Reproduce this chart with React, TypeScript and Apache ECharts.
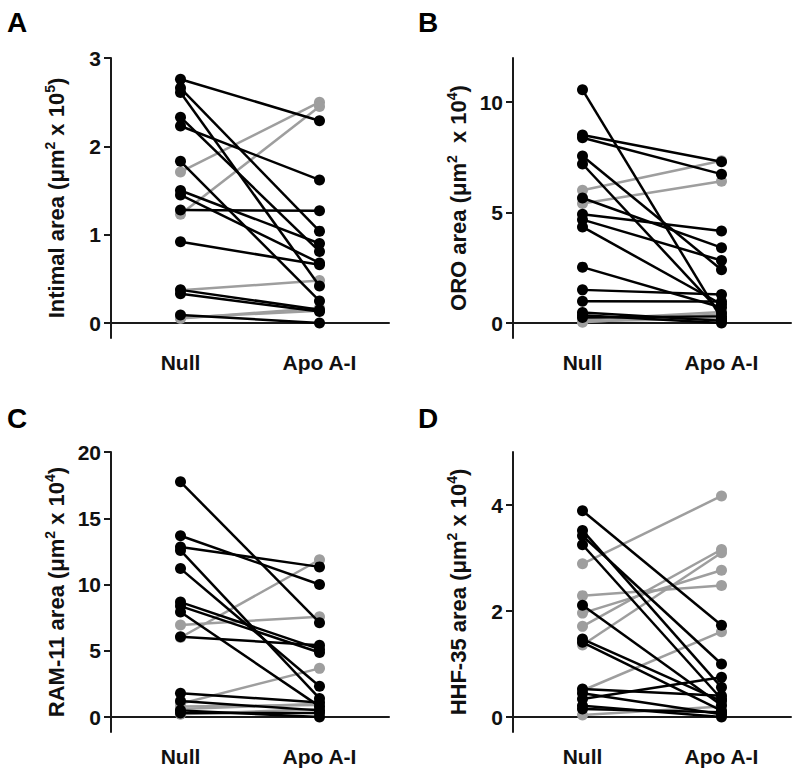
import React, { useEffect, useRef } from "react";
import * as echarts from "echarts";

const CATEGORIES = ["Null", "Apo A-I"];

// Panel A: Intimal area (µm² x 10^5)
const A_NULL_BLACK = [2.76, 2.66, 2.61, 2.33, 2.23, 1.83, 1.50, 1.45, 1.28, 0.92, 0.375, 0.33, 0.09];
const A_APO_BLACK = [2.29, 1.04, 0.42, 0.81, 1.62, 0.25, 0.90, 0.68, 1.27, 0.66, 0.15, 0.13, 0.0];
const A_NULL_GRAY = [1.71, 1.23, 0.37, 0.06, 0.05];
const A_APO_GRAY = [2.50, 2.45, 0.48, 0.14, 0.17];
const A_TICKS = [0, 1, 2, 3];

// Panel B: ORO area (µm² x 10^4)
const B_NULL_BLACK = [10.56, 8.51, 8.39, 7.56, 7.20, 5.66, 4.92, 4.68, 4.35, 2.53, 1.50, 0.98, 0.48, 0.35, 0.25];
const B_APO_BLACK = [0.20, 7.30, 6.74, 2.41, 0.45, 3.41, 4.17, 2.83, 0.85, 0.70, 1.29, 0.97, 0.10, 0.0, 0.30];
const B_NULL_GRAY = [6.01, 5.41, 0.15, 0.03, 0.08];
const B_APO_GRAY = [7.35, 6.42, 0.50, 0.40, 0.20];
const B_TICKS = [0, 5, 10];

// Panel C: RAM-11 area (µm² x 10^4)
const C_NULL_BLACK = [17.75, 13.68, 12.83, 12.57, 11.2, 8.67, 8.37, 7.92, 6.05, 1.8, 1.2, 0.5, 0.3];
const C_APO_BLACK = [7.12, 10.0, 11.33, 1.40, 2.32, 5.12, 4.87, 0.80, 5.42, 1.10, 0.50, 0.0, 0.30];
const C_NULL_GRAY = [6.95, 6.0, 1.0, 0.8, 0.6, 0.2];
const C_APO_GRAY = [7.57, 11.87, 3.67, 0.9, 1.0, 0.6];
const C_TICKS = [0, 5, 10, 15, 20];

// Panel D: HHF-35 area (µm² x 10^4)
const D_NULL_BLACK = [3.89, 3.52, 3.42, 3.25, 2.11, 1.47, 1.41, 0.53, 0.45, 0.34, 0.21, 0.15];
const D_APO_BLACK = [1.73, 0.56, 1.00, 0.34, 0.22, 0.30, 0.12, 0.40, 0.05, 0.75, 0.0, 0.09];
const D_NULL_GRAY = [2.89, 2.29, 1.96, 1.71, 1.36, 0.50, 0.04];
const D_APO_GRAY = [4.17, 2.48, 2.77, 3.16, 3.10, 1.61, 0.20];
const D_TICKS = [0, 2, 4];

const FONT = "'Liberation Sans', Arial, Helvetica, sans-serif";
const AXIS_COLOR = "#1a1a1a";
const BLACK = "#000000";
const GRAY = "#9e9e9e";

type Panel = {
  letter: string;
  title: string;
  mid: string;
  sup: string;
  nullBlack: number[];
  apoBlack: number[];
  nullGray: number[];
  apoGray: number[];
  ticks: number[];
  max: number;
};

const PANELS: Panel[] = [
  { letter: "A", title: "Intimal area (\u03bcm", mid: " x 10", sup: "5", nullBlack: A_NULL_BLACK, apoBlack: A_APO_BLACK, nullGray: A_NULL_GRAY, apoGray: A_APO_GRAY, ticks: A_TICKS, max: 3 },
  { letter: "B", title: "ORO area (\u03bcm", mid: "  x 10", sup: "4", nullBlack: B_NULL_BLACK, apoBlack: B_APO_BLACK, nullGray: B_NULL_GRAY, apoGray: B_APO_GRAY, ticks: B_TICKS, max: 12 },
  { letter: "C", title: "RAM-11 area (\u03bcm", mid: " x 10", sup: "4", nullBlack: C_NULL_BLACK, apoBlack: C_APO_BLACK, nullGray: C_NULL_GRAY, apoGray: C_APO_GRAY, ticks: C_TICKS, max: 20 },
  { letter: "D", title: "HHF-35 area (\u03bcm", mid: " x 10", sup: "4", nullBlack: D_NULL_BLACK, apoBlack: D_APO_BLACK, nullGray: D_NULL_GRAY, apoGray: D_APO_GRAY, ticks: D_TICKS, max: 5 },
];

const GRID_POS = [
  { left: 111, top: 58 },
  { left: 513, top: 58 },
  { left: 111, top: 452 },
  { left: 513, top: 452 },
];
const LETTER_POS = [
  { x: 7, y: 8 },
  { x: 418, y: 8 },
  { x: 7, y: 404 },
  { x: 418, y: 404 },
];
const GRID_W = 278;
const GRID_H = 280;
const ZERO_OFFSET = 15;

export default function App() {
  const ref = useRef<HTMLDivElement>(null);

  useEffect(() => {
    if (!ref.current) return;
    const chart = echarts.init(ref.current, undefined, { renderer: "svg" });

    const grids: any[] = [];
    const xAxes: any[] = [];
    const yAxes: any[] = [];
    const series: any[] = [];
    const graphics: any[] = [];

    PANELS.forEach((p, i) => {
      const g = GRID_POS[i];
      grids.push({ left: g.left, top: g.top, width: GRID_W, height: GRID_H, containLabel: false });
      xAxes.push({
        type: "category",
        gridIndex: i,
        data: CATEGORIES,
        boundaryGap: true,
        axisLine: { lineStyle: { color: AXIS_COLOR, width: 2 } },
        axisTick: { alignWithLabel: true, length: 7, lineStyle: { color: AXIS_COLOR, width: 2 } },
        axisLabel: { color: "#111", fontSize: 21, fontWeight: "bold", fontFamily: FONT, margin: 14 },
        splitLine: { show: false },
      });
      const min = -(ZERO_OFFSET / (GRID_H - ZERO_OFFSET)) * p.max;
      yAxes.push({
        type: "value",
        gridIndex: i,
        min,
        max: p.max,
        axisLine: { show: true, lineStyle: { color: AXIS_COLOR, width: 2 } },
        axisTick: { show: true, length: 7, customValues: p.ticks, lineStyle: { color: AXIS_COLOR, width: 2 } },
        axisLabel: { customValues: p.ticks, color: "#111", fontSize: 21, fontWeight: "bold", fontFamily: FONT, margin: 10 },
        splitLine: { show: false },
        name: `{t|${p.title}}{s|2}{t|${p.mid}}{s|${p.sup}}{t|)}`,
        nameLocation: "middle",
        nameGap: 44,
        nameRotate: 90,
        nameTextStyle: {
          rich: {
            t: { fontSize: 22, fontWeight: "bold", fontFamily: FONT, color: "#111", verticalAlign: "bottom", lineHeight: 24 },
            s: { fontSize: 14, fontWeight: "bold", fontFamily: FONT, color: "#111", verticalAlign: "top", lineHeight: 14 },
          },
        },
      });

      p.nullGray.forEach((n, k) => {
        series.push({
          type: "line",
          xAxisIndex: i,
          yAxisIndex: i,
          data: [n, p.apoGray[k]],
          symbol: "circle",
          symbolSize: 11,
          lineStyle: { color: GRAY, width: 2.5 },
          itemStyle: { color: GRAY },
          z: 2,
        });
      });
      p.nullBlack.forEach((n, k) => {
        series.push({
          type: "line",
          xAxisIndex: i,
          yAxisIndex: i,
          data: [n, p.apoBlack[k]],
          symbol: "circle",
          symbolSize: 11,
          lineStyle: { color: BLACK, width: 2.5 },
          itemStyle: { color: BLACK },
          z: 3,
        });
      });

      graphics.push({
        type: "text",
        left: LETTER_POS[i].x,
        top: LETTER_POS[i].y,
        style: { text: p.letter, fontSize: 28, fontWeight: "bold", fontFamily: FONT, fill: "#000" },
      });
    });

    chart.setOption({
      animation: false,
      backgroundColor: "#ffffff",
      grid: grids,
      xAxis: xAxes,
      yAxis: yAxes,
      series,
      graphic: graphics,
    });

    return () => chart.dispose();
  }, []);

  return (
    <div
      ref={ref}
      style={{ position: "fixed", left: 0, top: 0, width: 800, height: 776, background: "#fff" }}
    />
  );
}
